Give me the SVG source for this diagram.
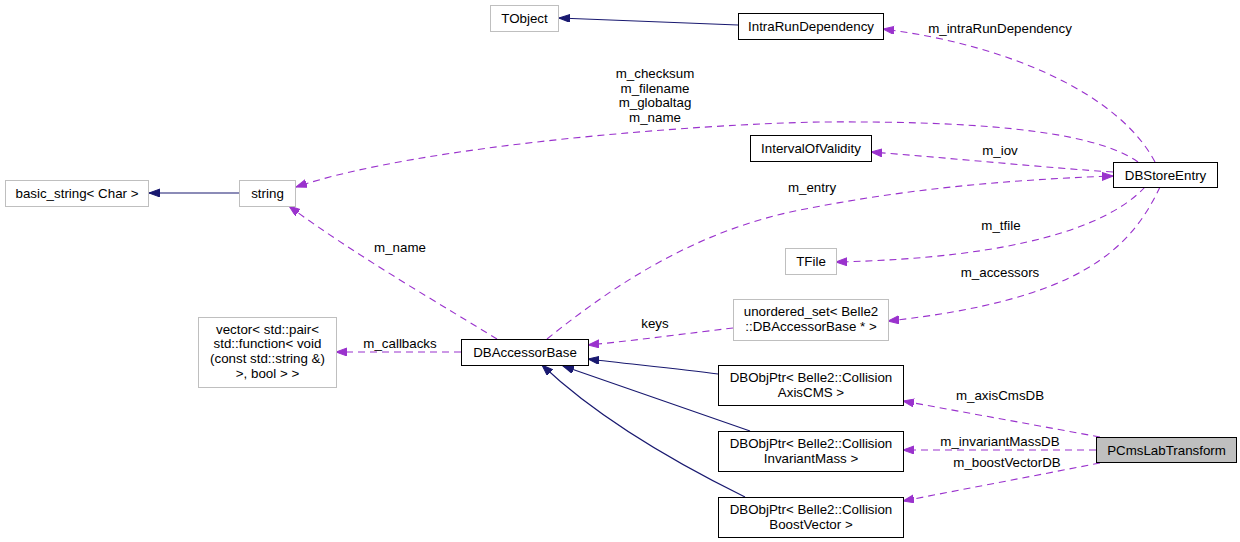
<svg xmlns="http://www.w3.org/2000/svg" width="1240" height="542" viewBox="0 0 1240 542">
<style>
text{font-family:"Liberation Sans",Arial,sans-serif;font-size:13.33px;fill:#000;text-anchor:middle}
.n{fill:#fff;stroke:#000;stroke-width:1}
.u{fill:#fff;stroke:#bfbfbf;stroke-width:1}
.h{fill:#bfbfbf;stroke:#000;stroke-width:1}
.inh{fill:none;stroke:#191970;stroke-width:1.1}
.use{fill:none;stroke:#9a32cd;stroke-width:1.1;stroke-dasharray:7,5}
</style>
<defs>
<marker id="an" markerUnits="userSpaceOnUse" markerWidth="12" markerHeight="9" refX="11" refY="4" orient="auto"><path d="M0,0 L11,4 L0,8 z" fill="#191970" stroke="#191970" stroke-width="1"/></marker>
<marker id="ap" markerUnits="userSpaceOnUse" markerWidth="12" markerHeight="9" refX="11" refY="4" orient="auto"><path d="M0,0 L11,4 L0,8 z" fill="#9a32cd" stroke="#9a32cd" stroke-width="1"/></marker>
</defs>
<rect width="1240" height="542" fill="#fff"/>
<g id="edges">
<path class="inh" d="M738,25 C680,23 620,20 559,18" marker-end="url(#an)"/>
<path class="inh" d="M239,193 L149,193" marker-end="url(#an)"/>
<path class="use" d="M1155,162 C1120,95 1010,45 883,29" marker-end="url(#ap)"/>
<text x="1000" y="33">m_intraRunDependency</text>
<path class="use" d="M1138,162 C1090,128 960,121 820,122 C700,124 420,145 296,187" marker-end="url(#ap)"/>
<text x="655" y="78">m_checksum</text>
<text x="655" y="92.5">m_filename</text>
<text x="655" y="107">m_globaltag</text>
<text x="655" y="121.5">m_name</text>
<path class="use" d="M1113,172 C1050,168 950,158 871,152" marker-end="url(#ap)"/>
<text x="1000" y="155">m_iov</text>
<path class="use" d="M547,339 C620,280 700,230 800,210 C900,190 1000,180 1113,176" marker-end="url(#ap)"/>
<text x="812" y="191.5">m_entry</text>
<path class="use" d="M1145,187 C1110,225 1020,258 836,262" marker-end="url(#ap)"/>
<text x="1001" y="229.5">m_tfile</text>
<path class="use" d="M1160,187 C1130,250 1080,300 888,321" marker-end="url(#ap)"/>
<text x="1000" y="276.5">m_accessors</text>
<path class="use" d="M497,339 C450,310 350,252 289,206" marker-end="url(#ap)"/>
<text x="400" y="251.5">m_name</text>
<path class="use" d="M461,352 L336,352" marker-end="url(#ap)"/>
<text x="400" y="347.5">m_callbacks</text>
<path class="use" d="M733,328 C690,333 640,340 588,345" marker-end="url(#ap)"/>
<text x="655" y="327.5">keys</text>
<path class="inh" d="M718,374 C680,369 630,364 588,359" marker-end="url(#an)"/>
<path class="inh" d="M750,431 C690,410 620,386 563,366" marker-end="url(#an)"/>
<path class="inh" d="M745,497 C680,465 600,420 542,365" marker-end="url(#an)"/>
<path class="use" d="M1100,437 L903,401" marker-end="url(#ap)"/>
<text x="1000" y="400">m_axisCmsDB</text>
<path class="use" d="M1096,450 L903,450" marker-end="url(#ap)"/>
<text x="1000" y="446">m_invariantMassDB</text>
<path class="use" d="M1100,463 L903,501" marker-end="url(#ap)"/>
<text x="1007" y="466.5">m_boostVectorDB</text>
</g>
<g id="TObject"><rect class="u" x="490.5" y="5.5" width="68" height="26"/><text x="524.5" y="23">TObject</text></g>
<g id="IntraRunDependency"><rect class="n" x="738.5" y="13.5" width="145" height="26"/><text x="811" y="31">IntraRunDependency</text></g>
<g id="basic_string"><rect class="u" x="5.5" y="180.5" width="143" height="26"/><text x="77" y="198">basic_string&lt; Char &gt;</text></g>
<g id="string"><rect class="u" x="239.5" y="180.5" width="56" height="26"/><text x="267.5" y="198">string</text></g>
<g id="IntervalOfValidity"><rect class="n" x="750.5" y="135.5" width="121" height="26"/><text x="811" y="153">IntervalOfValidity</text></g>
<g id="DBStoreEntry"><rect class="n" x="1113.5" y="162.5" width="104" height="25"/><text x="1165.5" y="179.5">DBStoreEntry</text></g>
<g id="TFile"><rect class="u" x="785.5" y="248.5" width="51" height="26"/><text x="811" y="266">TFile</text></g>
<g id="unordered_set"><rect class="u" x="733.5" y="299.5" width="155" height="41"/><text x="811" y="315.5">unordered_set&lt; Belle2</text><text x="811" y="330.5">::DBAccessorBase * &gt;</text></g>
<g id="DBAccessorBase"><rect class="n" x="461.5" y="339.5" width="127" height="26"/><text x="525" y="357">DBAccessorBase</text></g>
<g id="vector"><rect class="u" x="198.5" y="317.5" width="138" height="70"/><text x="267.5" y="333.5">vector&lt; std::pair&lt;</text><text x="267.5" y="348">std::function&lt; void</text><text x="267.5" y="362.5">(const std::string &amp;)</text><text x="267.5" y="377.5">&gt;, bool &gt; &gt;</text></g>
<g id="AxisCMS"><rect class="n" x="718.5" y="365.5" width="185" height="40"/><text x="811" y="381.5">DBObjPtr&lt; Belle2::Collision</text><text x="811" y="396.5">AxisCMS &gt;</text></g>
<g id="InvariantMass"><rect class="n" x="718.5" y="431.5" width="185" height="40"/><text x="811" y="447.5">DBObjPtr&lt; Belle2::Collision</text><text x="811" y="462.5">InvariantMass &gt;</text></g>
<g id="BoostVector"><rect class="n" x="718.5" y="497.5" width="185" height="40"/><text x="811" y="513.5">DBObjPtr&lt; Belle2::Collision</text><text x="811" y="528.5">BoostVector &gt;</text></g>
<g id="PCmsLabTransform"><rect class="h" x="1096.5" y="437.5" width="140" height="25"/><text x="1166.5" y="454.5">PCmsLabTransform</text></g>
</svg>
